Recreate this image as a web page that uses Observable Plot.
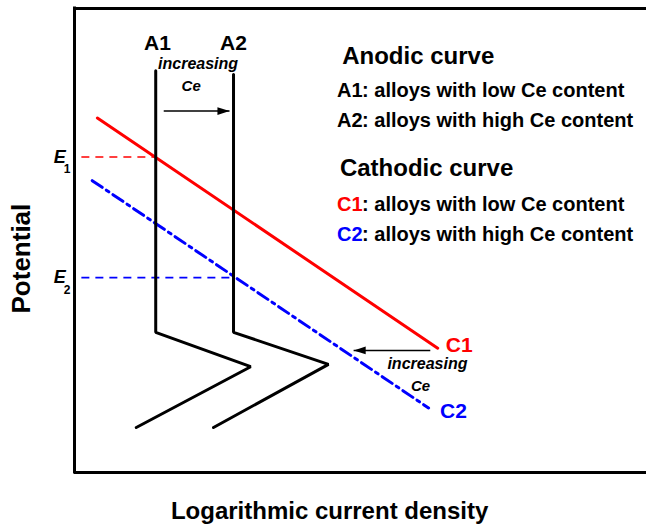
<!DOCTYPE html>
<html>
<head>
<meta charset="utf-8">
<script src="https://cdn.jsdelivr.net/npm/d3@7"></script>
<script src="https://cdn.jsdelivr.net/npm/@observablehq/plot@0.6"></script>
<style>
  html, body { margin: 0; padding: 0; background: #fff; }
  svg { display: block; }
</style>
</head>
<body>
<script>
// ---- Data (schematic units: x = log current density 0–100, y = potential 0–100) ----
const anodicNames = ["A1", "A2"];
const a1X = [14.2, 14.2, 30.8, 10.8];
const a1Y = [86.6, 30.2, 22.8, 9.7];
const a2X = [27.8, 27.8, 44.4, 24.3];
const a2Y = [85.8, 30.2, 23.3, 9.7];

const cathodicNames = ["C1", "C2"];
const c1X = [4.0, 63.5];
const c1Y = [76.4, 26.8];
const c2X = [3.1, 61.9];
const c2Y = [62.9, 13.9];

const eNames = ["E", "E"];
const eSubs = ["1", "2"];
const eValues = [68.0, 42.0];      // corrosion potentials E1, E2
const eStartX = 1.2;
const eEndX = [14.2, 27.8];        // intersections with A1, A2

const legendHeads = ["Anodic curve", "Cathodic curve"];
const legendKeys = ["A1", "A2", "C1", "C2"];
const legendTexts = [": alloys with low Ce content", ": alloys with high Ce content",
                     ": alloys with low Ce content", ": alloys with high Ce content"];

const arrowX1 = [15.6, 62.2];
const arrowX2 = [27.1, 48.8];
const arrowY = [77.9, 26.3];

const xLabel = "Logarithmic current density";
const yLabel = "Potential";

// ---- Tables built from the arrays ----
const anodic = [
  ...a1X.map((x, i) => ({curve: anodicNames[0], x, y: a1Y[i]})),
  ...a2X.map((x, i) => ({curve: anodicNames[1], x, y: a2Y[i]}))
];
const c1 = c1X.map((x, i) => ({x, y: c1Y[i]}));
const c2 = c2X.map((x, i) => ({x, y: c2Y[i]}));
const eLines = eValues.map((v, i) => ({x1: eStartX, x2: eEndX[i], y: v, i}));
const arrows = arrowX1.map((x1, i) => ({x1, x2: arrowX2[i], y: arrowY[i]}));

const font = "Liberation Sans, Arial, Helvetica, sans-serif";

const headRight = {draw(ctx, size) { const k = Math.sqrt(size); ctx.moveTo(0, 0); ctx.lineTo(-k * 1.7, -k * 0.55); ctx.lineTo(-k * 1.7, k * 0.55); ctx.closePath(); }};
const headLeft = {draw(ctx, size) { const k = Math.sqrt(size); ctx.moveTo(0, 0); ctx.lineTo(k * 1.7, -k * 0.55); ctx.lineTo(k * 1.7, k * 0.55); ctx.closePath(); }};

const legendRows = legendKeys.map((k, i) => ({key: k, text: legendTexts[i], i}));

const chart = Plot.plot({
  width: 646,
  height: 528,
  marginLeft: 74,
  marginRight: 0,
  marginTop: 8,
  marginBottom: 56,
  x: {domain: [0, 100], axis: null},
  y: {domain: [0, 100], axis: null},
  style: {fontFamily: font, background: "white", overflow: "visible"},
  marks: [
    // frame (left, top, bottom)
    Plot.ruleY([0, 100], {stroke: "black", strokeWidth: 3}),
    Plot.ruleX([0], {y1: 0, y2: 100, stroke: "black", strokeWidth: 3, strokeLinecap: "square"}),

    // E dashed guide lines
    Plot.link(eLines, {x1: "x1", x2: "x2", y1: "y", y2: "y",
      stroke: d => d.i === 0 ? "red" : "blue", strokeWidth: 1.6, strokeDasharray: "8,6"}),

    // cathodic curves
    Plot.line(c1, {x: "x", y: "y", stroke: "red", strokeWidth: 3}),
    Plot.line(c2, {x: "x", y: "y", stroke: "blue", strokeWidth: 3, strokeDasharray: "12,5,3,5"}),

    // anodic curves
    Plot.line(anodic, {x: "x", y: "y", z: "curve", stroke: "black", strokeWidth: 3, strokeLinejoin: "miter"}),

    // arrows
    Plot.link(arrows, {x1: "x1", x2: "x2", y1: "y", y2: "y", stroke: "black", strokeWidth: 1.5}),
    Plot.dot([arrows[0]], {x: "x2", y: "y", symbol: headRight, r: 4, fill: "black", stroke: "none"}),
    Plot.dot([arrows[1]], {x: "x2", y: "y", symbol: headLeft, r: 4, fill: "black", stroke: "none"}),

    // anodic labels
    Plot.text(anodicNames, {x: [14.5, 27.8], y: [92.6, 92.6], text: d => d,
      fontSize: 21, fontWeight: "bold", fill: "black"}),
    // "increasing Ce" labels
    Plot.text(["increasing", "increasing"], {x: [21.6, 61.7], y: [88.1, 23.5], text: d => d,
      fontSize: 16, fontWeight: "bold", fontStyle: "italic", fill: "black"}),
    Plot.text(["Ce", "Ce"], {x: [20.4, 60.5], y: [83.3, 18.7], text: d => d,
      fontSize: 15, fontWeight: "bold", fontStyle: "italic", fill: "black"}),

    // cathodic end labels
    Plot.text(cathodicNames, {x: [64.9, 63.9], y: [27.4, 13.1], text: d => d, textAnchor: "start",
      fontSize: 21, fontWeight: "bold", fill: (d, i) => i === 0 ? "red" : "blue"}),

    // E labels with subscripts
    Plot.text(eNames, {x: [-2.6, -2.6], y: eValues, text: d => d, fontSize: 18,
      fontWeight: "bold", fontStyle: "italic", fill: "black"}),
    Plot.text(eSubs, {x: [-1.3, -1.3], y: eValues.map(v => v - 2.7), text: d => d, fontSize: 12,
      fontWeight: "bold", fill: "black"}),

    // legend headings
    Plot.text(legendHeads, {x: [46.8, 46.4], y: [89.6, 65.6], text: d => d, textAnchor: "start",
      fontSize: 24, fontWeight: "bold", fill: "black"}),
    // legend keys
    Plot.text(legendRows, {x: 45.9, y: [82.3, 75.9, 57.8, 51.3], text: "key", textAnchor: "start",
      fontSize: 20, fontWeight: "bold",
      fill: d => d.key === "C1" ? "red" : d.key === "C2" ? "blue" : "black"}),
    Plot.text(legendRows, {x: 45.9, y: [82.3, 75.9, 57.8, 51.3], text: "text", textAnchor: "start",
      dx: 25, fontSize: 20, fontWeight: "bold", fill: "black"}),

    // axis titles
    Plot.text([yLabel], {x: -9.27, y: 46.1, text: d => d, rotate: -90,
      fontSize: 26, fontWeight: "bold", fill: "black"}),
    Plot.text([xLabel], {x: 44.6, y: -8.4, text: d => d,
      fontSize: 24, fontWeight: "bold", fill: "black"})
  ]
});

document.body.appendChild(chart);
</script>
</body>
</html>
